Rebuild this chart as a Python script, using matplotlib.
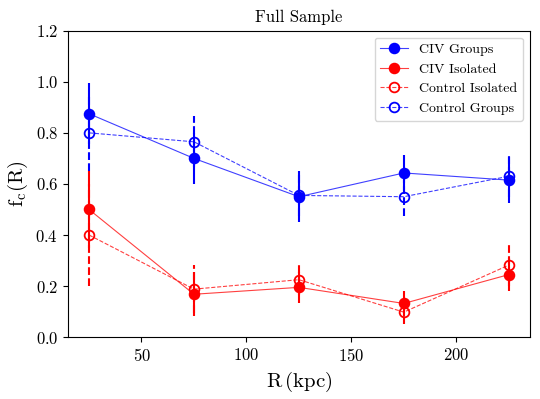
import matplotlib
matplotlib.use("Agg")
import matplotlib.pyplot as plt

plt.rcParams['font.family'] = ['cmr10', 'DejaVu Serif']
plt.rcParams['mathtext.fontset'] = 'cm'
plt.rcParams['axes.unicode_minus'] = False
plt.rcParams['axes.formatter.use_mathtext'] = True

r = [25, 75, 125, 175, 225]

civ_groups = [0.875, 0.70, 0.55, 0.643, 0.615]
civ_groups_err = [0.12, 0.10, 0.10, 0.07, 0.09]

civ_isolated = [0.50, 0.168, 0.195, 0.132, 0.245]
civ_isolated_err = [0.15, 0.086, 0.06, 0.05, 0.066]

ctrl_isolated = [0.40, 0.188, 0.225, 0.098, 0.282]
ctrl_isolated_err = [0.20, 0.094, 0.06, 0.045, 0.08]

ctrl_groups = [0.80, 0.765, 0.555, 0.55, 0.63]
ctrl_groups_err = [0.15, 0.10, 0.08, 0.075, 0.08]


def main():
    fig = plt.figure(figsize=(5.4, 3.99), dpi=100)
    ax = fig.add_axes([0.126, 0.155, 0.855, 0.768])

    series = [
        (civ_groups, civ_groups_err, "blue", "-", True, "CIV Groups"),
        (civ_isolated, civ_isolated_err, "red", "-", True, "CIV Isolated"),
        (ctrl_isolated, ctrl_isolated_err, "red", "--", False, "Control Isolated"),
        (ctrl_groups, ctrl_groups_err, "blue", "--", False, "Control Groups"),
    ]
    for y, err, c, ls, filled, lab in series:
        _, _, bars = ax.errorbar(r, y, yerr=err, fmt="none", ecolor=c, elinewidth=1.5)
        if ls == "--":
            bars[0].set_linestyle("--")
        rgba = matplotlib.colors.to_rgba(c, 0.75)
        ax.plot(r, y, ls=ls, lw=0.8, color=rgba, marker="o", ms=7,
                mfc=c if filled else "none", mec=c, mew=1.3, label=lab)

    ax.set_xlim(15, 235)
    ax.set_ylim(0.0, 1.2)
    ax.set_xticks([50, 100, 150, 200])
    ax.set_yticks([0.0, 0.2, 0.4, 0.6, 0.8, 1.0, 1.2])
    ax.tick_params(labelsize=12)
    ax.set_title("Full Sample", fontsize=12)
    ax.set_xlabel(r"R$\,$(kpc)", fontsize=15)
    ax.set_ylabel(r"f$_{\rm c}$(R)", fontsize=15)
    ax.legend(loc="upper right", fontsize=10)

    fig.savefig("out.png", dpi=100)


if __name__ == "__main__":
    main()
